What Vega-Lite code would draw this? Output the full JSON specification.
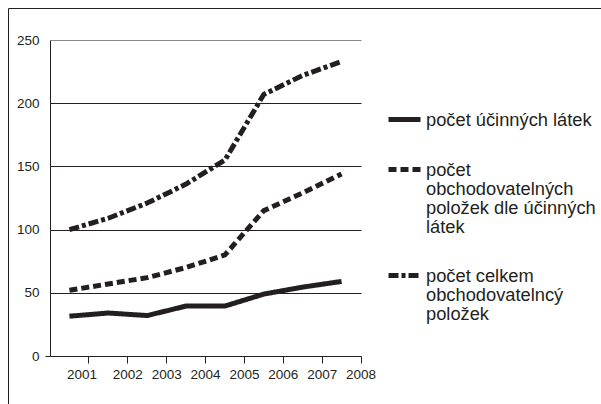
{
  "$schema": "https://vega.github.io/schema/vega-lite/v6.json",
  "width": 595,
  "height": 400,
  "autosize": "none",
  "padding": {"left": 8, "top": 8, "right": 0, "bottom": 0},
  "background": "white",
  "config": {
    "view": {"stroke": "#231f20", "strokeWidth": 1},
    "font": "Liberation Sans",
    "axis": {"labelFont": "Liberation Sans", "labelColor": "#231f20", "labelFontSize": 13.5},
    "style": {"guide-label": {"lineHeight": 19}}
  },
  "data": {
    "values": [
      {"series": "počet účinných látek", "year": "2001", "value": 31.5},
      {"series": "počet účinných látek", "year": "2002", "value": 34},
      {"series": "počet účinných látek", "year": "2003", "value": 32},
      {"series": "počet účinných látek", "year": "2004", "value": 39.5},
      {"series": "počet účinných látek", "year": "2005", "value": 39.5},
      {"series": "počet účinných látek", "year": "2006", "value": 49},
      {"series": "počet účinných látek", "year": "2007", "value": 54.5},
      {"series": "počet účinných látek", "year": "2008", "value": 59},
      {"series": "počet obchodovatelných položek dle účinných látek", "year": "2001", "value": 52},
      {"series": "počet obchodovatelných položek dle účinných látek", "year": "2002", "value": 57},
      {"series": "počet obchodovatelných položek dle účinných látek", "year": "2003", "value": 62},
      {"series": "počet obchodovatelných položek dle účinných látek", "year": "2004", "value": 70},
      {"series": "počet obchodovatelných položek dle účinných látek", "year": "2005", "value": 80},
      {"series": "počet obchodovatelných položek dle účinných látek", "year": "2006", "value": 115},
      {"series": "počet obchodovatelných položek dle účinných látek", "year": "2007", "value": 129},
      {"series": "počet obchodovatelných položek dle účinných látek", "year": "2008", "value": 144},
      {"series": "počet celkem obchodovatelncý položek", "year": "2001", "value": 100},
      {"series": "počet celkem obchodovatelncý položek", "year": "2002", "value": 109},
      {"series": "počet celkem obchodovatelncý položek", "year": "2003", "value": 121},
      {"series": "počet celkem obchodovatelncý položek", "year": "2004", "value": 136},
      {"series": "počet celkem obchodovatelncý položek", "year": "2005", "value": 155},
      {"series": "počet celkem obchodovatelncý položek", "year": "2006", "value": 207},
      {"series": "počet celkem obchodovatelncý položek", "year": "2007", "value": 222},
      {"series": "počet celkem obchodovatelncý položek", "year": "2008", "value": 233}
    ]
  },
  "mark": {"type": "line", "color": "#231f20", "strokeWidth": 5, "strokeCap": "butt"},
  "encoding": {
    "x": {
      "field": "year",
      "type": "ordinal",
      "sort": null,
      "scale": {"type": "band", "range": [42, 353], "paddingInner": 0, "paddingOuter": 0},
      "axis": {
        "title": null,
        "offset": -52,
        "bandPosition": 1,
        "labelAngle": 0,
        "labelOffset": {"condition": {"test": "datum.value == '2001'", "value": 12.6}, "value": 19.5},
        "domainColor": "#231f20",
        "tickColor": "#231f20",
        "tickSize": 7,
        "labelPadding": 4,
        "grid": false
      }
    },
    "y": {
      "field": "value",
      "type": "quantitative",
      "scale": {"domain": [0, 250], "range": [348, 32], "nice": false, "zero": true},
      "axis": {
        "title": null,
        "offset": -42,
        "values": [0, 50, 100, 150, 200, 250],
        "ticks": true,
        "tickSize": 5,
        "tickColor": {"condition": {"test": "datum.value == 0", "value": "#231f20"}, "value": "transparent"},
        "labelPadding": 6,
        "domainColor": "#231f20",
        "grid": true,
        "gridColor": {"condition": {"test": "datum.value == 250", "value": "#8a8a8a"}, "value": "#231f20"},
        "gridOpacity": 1,
        "gridWidth": 1
      }
    },
    "strokeDash": {
      "field": "series",
      "type": "nominal",
      "scale": {
        "domain": ["počet účinných látek", "počet obchodovatelných položek dle účinných látek", "počet celkem obchodovatelncý položek"],
        "range": [[1, 0], [8, 4], [10, 3, 4, 3]]
      },
      "legend": {
        "title": null,
        "orient": "none",
        "legendX": 386,
        "legendY": 93,
        "padding": 0,
        "symbolType": "M-2,1H2",
        "symbolSize": 256,
        "symbolStrokeWidth": 5,
        "symbolStrokeColor": "#231f20",
        "symbolFillColor": "transparent",
        "labelFont": "Liberation Sans",
        "labelFontSize": 18.3,
        "labelColor": "#231f20",
        "labelOffset": 11,
        "labelLimit": 300,
        "labelBaseline": "top",
        "rowPadding": 21,
        "labelExpr": "datum.label == 'počet obchodovatelných položek dle účinných látek' ? ['počet', 'obchodovatelných', 'položek dle účinných', 'látek'] : datum.label == 'počet celkem obchodovatelncý položek' ? ['počet celkem', 'obchodovatelncý', 'položek'] : datum.label"
      }
    }
  }
}
